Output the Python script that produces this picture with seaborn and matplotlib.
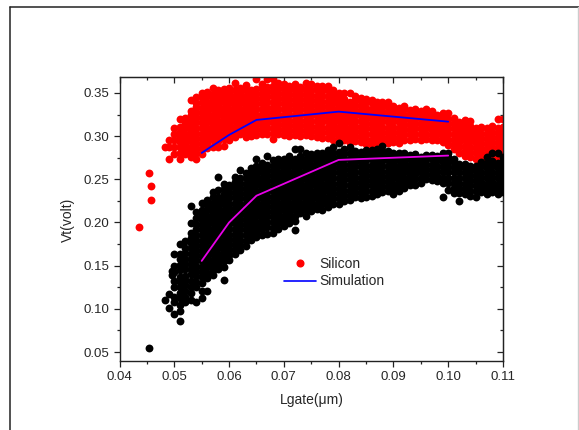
import numpy as np
import pandas as pd
import matplotlib
matplotlib.use('Agg')
import matplotlib.pyplot as plt
from matplotlib.lines import Line2D
from matplotlib.ticker import MultipleLocator, FormatStrFormatter
import seaborn as sns

# Lgate in um, Vt in mV per column
red_x = [0.0436, 0.0453, 0.0457, 0.0483, 0.049, 0.050, 0.051, 0.052, 0.053, 0.054,
         0.055, 0.056, 0.057, 0.058, 0.059, 0.060, 0.061, 0.062, 0.063, 0.064,
         0.065, 0.066, 0.067, 0.068, 0.069, 0.070, 0.071, 0.072, 0.073, 0.074,
         0.075, 0.076, 0.077, 0.078, 0.079, 0.080, 0.081, 0.082, 0.083, 0.084,
         0.085, 0.086, 0.087, 0.088, 0.089, 0.090, 0.091, 0.092, 0.093, 0.094,
         0.095, 0.096, 0.097, 0.098, 0.099, 0.100, 0.101, 0.102, 0.103, 0.104,
         0.105, 0.106, 0.107, 0.108, 0.109, 0.110]
red_vt = [
    [195], [257], [226, 242], [288], [273, 288, 296], [279, 287, 295, 303, 309],
    [273, 281, 287, 293, 299, 305, 311, 320],
    [279, 285, 291, 297, 303, 309, 315, 321],
    [276, 282, 288, 294, 300, 306, 312, 318, 324, 329, 342],
    [273, 280, 286, 292, 298, 304, 310, 316, 322, 328, 334, 338, 345],
    [279, 285, 291, 297, 303, 309, 315, 321, 327, 333, 339, 345, 350],
    [286, 292, 298, 304, 310, 316, 322, 328, 334, 340, 346, 351],
    [288, 295, 301, 307, 313, 319, 325, 331, 337, 343, 349, 356],
    [288, 294, 300, 306, 312, 318, 324, 330, 336, 342, 348, 354],
    [289, 297, 303, 309, 315, 321, 327, 333, 339, 345, 351, 355],
    [296, 302, 308, 314, 320, 326, 332, 338, 344, 350, 356],
    [299, 305, 311, 317, 323, 329, 335, 341, 347, 353, 361],
    [303, 308, 314, 320, 326, 332, 338, 344, 350, 356],
    [299, 305, 311, 317, 323, 329, 335, 341, 347, 353, 359],
    [300, 306, 312, 318, 324, 330, 336, 342, 348, 354],
    [301, 307, 313, 319, 325, 331, 337, 343, 349, 355, 366],
    [302, 308, 314, 320, 326, 332, 338, 344, 350, 356, 360],
    [303, 309, 315, 321, 327, 333, 339, 345, 351, 357, 366],
    [297, 304, 310, 316, 322, 328, 334, 340, 346, 352, 358, 366],
    [302, 308, 314, 320, 326, 332, 338, 344, 350, 356, 362],
    [301, 307, 313, 319, 325, 331, 337, 343, 349, 355, 360],
    [300, 306, 312, 318, 324, 330, 336, 342, 348, 354, 358],
    [301, 307, 313, 319, 325, 331, 337, 343, 349, 355, 360],
    [300, 306, 312, 318, 324, 330, 336, 342, 348, 354, 357],
    [301, 307, 313, 319, 325, 331, 337, 343, 349, 355, 361],
    [300, 306, 312, 318, 324, 330, 336, 342, 348, 354, 360],
    [299, 305, 311, 317, 323, 329, 335, 341, 347, 353, 358],
    [298, 304, 310, 316, 322, 328, 334, 340, 346, 352, 358],
    [298, 305, 311, 317, 323, 329, 335, 341, 347, 353, 358],
    [296, 302, 308, 314, 320, 326, 332, 338, 344, 350, 354],
    [293, 299, 305, 311, 317, 323, 329, 335, 341, 347, 350],
    [295, 301, 307, 313, 319, 325, 331, 337, 343, 350],
    [292, 298, 304, 310, 316, 322, 328, 334, 340, 350],
    [294, 300, 306, 312, 318, 324, 330, 336, 342, 346],
    [293, 299, 305, 311, 317, 323, 329, 335, 341, 344],
    [291, 297, 303, 309, 315, 321, 327, 333, 339, 343],
    [290, 296, 302, 308, 314, 320, 326, 332, 338, 342],
    [292, 298, 304, 310, 316, 322, 328, 334, 340],
    [293, 299, 305, 311, 317, 323, 329, 335, 339],
    [292, 298, 304, 310, 316, 322, 328, 334, 339],
    [293, 299, 305, 311, 317, 323, 329, 335],
    [292, 298, 304, 310, 316, 322, 328, 333],
    [295, 301, 307, 313, 319, 325, 331, 335],
    [296, 302, 308, 314, 320, 326, 330],
    [297, 303, 309, 315, 321, 327, 331],
    [296, 302, 308, 314, 320, 326, 329],
    [297, 303, 309, 315, 321, 327, 331],
    [295, 301, 307, 313, 319, 325, 329],
    [296, 302, 308, 314, 320, 324],
    [293, 299, 305, 311, 317, 322, 327],
    [290, 296, 302, 308, 314, 320, 327],
    [285, 291, 297, 303, 309, 315, 321],
    [281, 287, 293, 299, 305, 311, 316],
    [277, 283, 289, 295, 301, 307, 313, 319],
    [276, 282, 288, 294, 300, 306, 312, 317],
    [274, 280, 286, 292, 298, 304, 310],
    [273, 279, 285, 291, 297, 303, 309, 311],
    [273, 280, 286, 292, 298, 304, 310],
    [275, 281, 287, 293, 299, 305, 312],
    [274, 280, 286, 292, 298, 304, 310, 320],
    [275, 281, 287, 293, 299, 305, 311, 320],
    [274, 280, 286, 292, 298, 304, 310, 315],
    [274, 281, 287, 293, 299, 305, 311, 315],
]

black_x = [0.0453, 0.0483, 0.049, 0.0495, 0.050, 0.051, 0.052, 0.053, 0.054,
           0.055, 0.056, 0.057, 0.058, 0.059, 0.060, 0.061, 0.062, 0.063, 0.064,
           0.065, 0.066, 0.067, 0.068, 0.069, 0.070, 0.071, 0.072, 0.073, 0.074,
           0.075, 0.076, 0.077, 0.078, 0.079, 0.080, 0.081, 0.082, 0.083, 0.084,
           0.085, 0.086, 0.087, 0.088, 0.089, 0.090, 0.091, 0.092, 0.093, 0.094,
           0.095, 0.096, 0.097, 0.098, 0.099, 0.100, 0.101, 0.102, 0.103, 0.104,
           0.105, 0.106, 0.107, 0.108, 0.109, 0.110]
black_vt = [
    [55], [110], [101, 117], [139, 144], [94, 108, 114, 125, 132, 143, 150, 163],
    [86, 98, 105, 112, 118, 125, 131, 137, 145, 151, 158, 164, 175],
    [108, 114, 121, 128, 133, 138, 146, 152, 158, 165, 171, 179],
    [110, 118, 125, 132, 140, 146, 152, 158, 164, 170, 176, 182, 188, 199, 219],
    [108, 125, 131, 138, 144, 150, 156, 162, 168, 174, 180, 186, 192, 198, 205, 212],
    [112, 121, 130, 137, 143, 149, 155, 161, 167, 173, 179, 185, 191, 197, 203, 209, 215, 223],
    [121, 136, 142, 148, 154, 160, 166, 172, 178, 184, 190, 196, 202, 208, 214, 220, 226],
    [139, 145, 151, 157, 163, 169, 175, 181, 187, 193, 199, 205, 211, 217, 223, 229, 235],
    [146, 152, 158, 164, 170, 176, 182, 188, 194, 200, 206, 212, 218, 224, 230, 238, 253],
    [133, 149, 155, 161, 167, 173, 179, 185, 191, 197, 203, 209, 215, 221, 227, 233, 239, 245],
    [156, 162, 168, 174, 180, 186, 192, 198, 204, 210, 216, 222, 228, 234, 240, 244],
    [163, 169, 175, 181, 187, 193, 199, 205, 211, 217, 223, 229, 235, 241, 247, 253],
    [168, 174, 180, 186, 192, 198, 204, 210, 216, 222, 228, 234, 240, 246, 252, 261],
    [173, 179, 185, 191, 197, 203, 209, 215, 221, 227, 233, 239, 245, 251, 257],
    [180, 186, 192, 198, 204, 210, 216, 222, 228, 234, 240, 246, 252, 258, 263],
    [183, 189, 195, 201, 207, 213, 219, 225, 231, 237, 243, 249, 255, 261, 266, 273],
    [186, 192, 198, 204, 210, 216, 222, 228, 234, 240, 246, 252, 258, 264, 269],
    [187, 195, 201, 207, 213, 219, 225, 231, 237, 243, 249, 255, 261, 267, 277],
    [188, 194, 200, 206, 212, 218, 224, 230, 236, 242, 248, 254, 260, 266, 272],
    [193, 199, 205, 211, 217, 223, 229, 235, 241, 247, 253, 259, 265, 271, 274],
    [196, 202, 208, 214, 220, 226, 232, 238, 244, 250, 256, 262, 268, 274],
    [199, 205, 211, 217, 223, 229, 235, 241, 247, 253, 259, 265, 271, 277],
    [191, 202, 208, 214, 220, 226, 232, 238, 244, 250, 256, 262, 268, 274, 285],
    [211, 217, 223, 229, 235, 241, 247, 253, 259, 265, 271, 277, 285],
    [208, 214, 220, 226, 232, 238, 244, 250, 256, 262, 268, 274, 280],
    [213, 219, 225, 231, 237, 243, 249, 255, 261, 267, 273, 279],
    [216, 222, 228, 234, 240, 246, 252, 258, 264, 270, 276, 281],
    [215, 221, 227, 233, 239, 245, 251, 257, 263, 269, 275, 280],
    [218, 224, 230, 236, 242, 248, 254, 260, 266, 272, 278, 284],
    [221, 227, 233, 239, 245, 251, 257, 263, 269, 275, 281, 288],
    [222, 228, 234, 240, 246, 252, 258, 264, 270, 276, 282, 292],
    [225, 231, 237, 243, 249, 255, 261, 267, 273, 279, 285],
    [226, 232, 238, 244, 250, 256, 262, 268, 274, 280, 288],
    [229, 235, 241, 247, 253, 259, 265, 271, 277, 283],
    [228, 234, 240, 246, 252, 258, 264, 270, 276, 282],
    [230, 236, 242, 248, 254, 260, 266, 272, 278, 284],
    [231, 237, 243, 249, 255, 261, 267, 273, 279, 284],
    [233, 239, 245, 251, 257, 263, 269, 275, 281, 285],
    [235, 241, 247, 253, 259, 265, 271, 277, 283, 289],
    [236, 242, 248, 254, 260, 266, 272, 278, 283],
    [233, 239, 245, 251, 257, 263, 269, 275, 281],
    [236, 242, 248, 254, 260, 266, 272, 278, 280],
    [240, 246, 252, 258, 264, 270, 276, 281],
    [243, 249, 255, 261, 267, 273, 278],
    [244, 250, 256, 262, 268, 274, 279],
    [246, 252, 258, 264, 270, 276],
    [250, 256, 262, 268, 274, 278],
    [249, 255, 261, 267, 273, 278],
    [248, 254, 260, 266, 272, 277],
    [230, 246, 252, 258, 264, 270, 276, 281],
    [238, 246, 252, 258, 264, 270, 276, 281],
    [234, 240, 246, 252, 258, 264, 270, 274],
    [225, 234, 240, 246, 252, 258, 264, 268],
    [233, 239, 245, 251, 257, 263, 268],
    [231, 237, 243, 249, 255, 261, 266],
    [230, 236, 242, 248, 254, 260, 266],
    [235, 241, 247, 253, 259, 265, 270],
    [233, 239, 245, 251, 257, 263, 269, 276],
    [235, 241, 247, 253, 259, 265, 271, 281],
    [233, 239, 245, 251, 257, 263, 269, 281],
    [235, 241, 247, 253, 259, 265, 271, 276],
    [232, 238, 244, 250, 256, 262, 268, 274],
]

sim_x = [0.055, 0.060, 0.065, 0.080, 0.100]
sim_red = [0.2806, 0.3014, 0.3188, 0.3284, 0.3168]
sim_black = [0.1555, 0.200, 0.231, 0.2725, 0.2775]

x_ticks = [0.04, 0.05, 0.06, 0.07, 0.08, 0.09, 0.10, 0.11]
y_ticks = [0.05, 0.10, 0.15, 0.20, 0.25, 0.30, 0.35]


def to_frame(xs, columns):
    rows = [(x, v / 1000) for x, col in zip(xs, columns) for v in col]
    return pd.DataFrame(rows, columns=['Lgate', 'Vt'])


sns.set_style('ticks')
plt.rcParams['font.family'] = ['Liberation Sans', 'DejaVu Sans']
plt.rcParams['font.size'] = 9.5

fig = plt.figure(figsize=(5.79, 4.30), dpi=100)
ax = fig.add_axes([119.5 / 579, 1 - 361 / 430, (503 - 119.5) / 579, (361 - 77) / 430])

sns.scatterplot(data=to_frame(red_x, red_vt), x='Lgate', y='Vt', color='#ff0000',
                s=32, linewidth=0, ax=ax, zorder=2)
sns.scatterplot(data=to_frame(black_x, black_vt), x='Lgate', y='Vt', color='black',
                s=32, linewidth=0, ax=ax, zorder=3)
sns.lineplot(x=sim_x, y=sim_red, color='#0000ff', linewidth=1.3, errorbar=None, ax=ax, zorder=4)
sns.lineplot(x=sim_x, y=sim_black, color='#e800e8', linewidth=1.3, errorbar=None, ax=ax, zorder=4)

ax.set_xlim(0.04, 0.11)
ax.set_ylim(0.0396, 0.3685)
ax.set_xticks(x_ticks)
ax.set_yticks(y_ticks)
ax.xaxis.set_minor_locator(MultipleLocator(0.005))
ax.yaxis.set_minor_locator(MultipleLocator(0.025))
ax.xaxis.set_major_formatter(FormatStrFormatter('%.2f'))
ax.yaxis.set_major_formatter(FormatStrFormatter('%.2f'))
ax.tick_params(which='major', length=4.5, width=0.9, labelsize=9.5, pad=3, color='#222222')
ax.tick_params(which='minor', length=2.5, width=0.9, color='#222222')
for s in ax.spines.values():
    s.set_linewidth(1.0)
    s.set_color('#222222')

# top and right ticks point inwards
top = ax.secondary_xaxis('top')
top.set_xticks(x_ticks)
top.xaxis.set_minor_locator(MultipleLocator(0.005))
top.tick_params(which='major', direction='in', length=4.5, width=0.9, labeltop=False)
top.tick_params(which='minor', direction='in', length=2.5, width=0.9)
right = ax.secondary_yaxis('right')
right.set_yticks(y_ticks)
right.yaxis.set_minor_locator(MultipleLocator(0.025))
right.tick_params(which='major', direction='in', length=4.5, width=0.9, labelright=False)
right.tick_params(which='minor', direction='in', length=2.5, width=0.9)

ax.set_xlabel('')
ax.set_ylabel('')
fig.text(311.5 / 579, 1 - 400 / 430, 'Lgate(\u03bcm)', ha='center', va='center', fontsize=10)
fig.text(68 / 579, 1 - 220 / 430, 'Vt(volt)', ha='center', va='center', rotation=90, fontsize=10)

handles = [Line2D([], [], color='#ff0000', marker='o', markersize=4.8, linestyle='none'),
           Line2D([], [], color='#0000ff', linewidth=1.2)]
ax.legend(handles, ['Silicon', 'Simulation'], frameon=False, fontsize=10,
          loc='upper left', bbox_to_anchor=(0.428, 0.365), handlelength=2.3,
          handletextpad=0.3, labelspacing=0.22, borderpad=0, borderaxespad=0)

# page frame round the chart
fig.add_artist(Line2D([10 / 579, 10 / 579], [0, 1 - 7 / 430], color='#222222', linewidth=1.1))
fig.add_artist(Line2D([10 / 579, 1], [1 - 7 / 430, 1 - 7 / 430], color='#222222', linewidth=1.1))
fig.add_artist(Line2D([578 / 579, 578 / 579], [0, 1 - 7 / 430], color='#cccccc', linewidth=1.0))

fig.savefig('out.png', dpi=100)
